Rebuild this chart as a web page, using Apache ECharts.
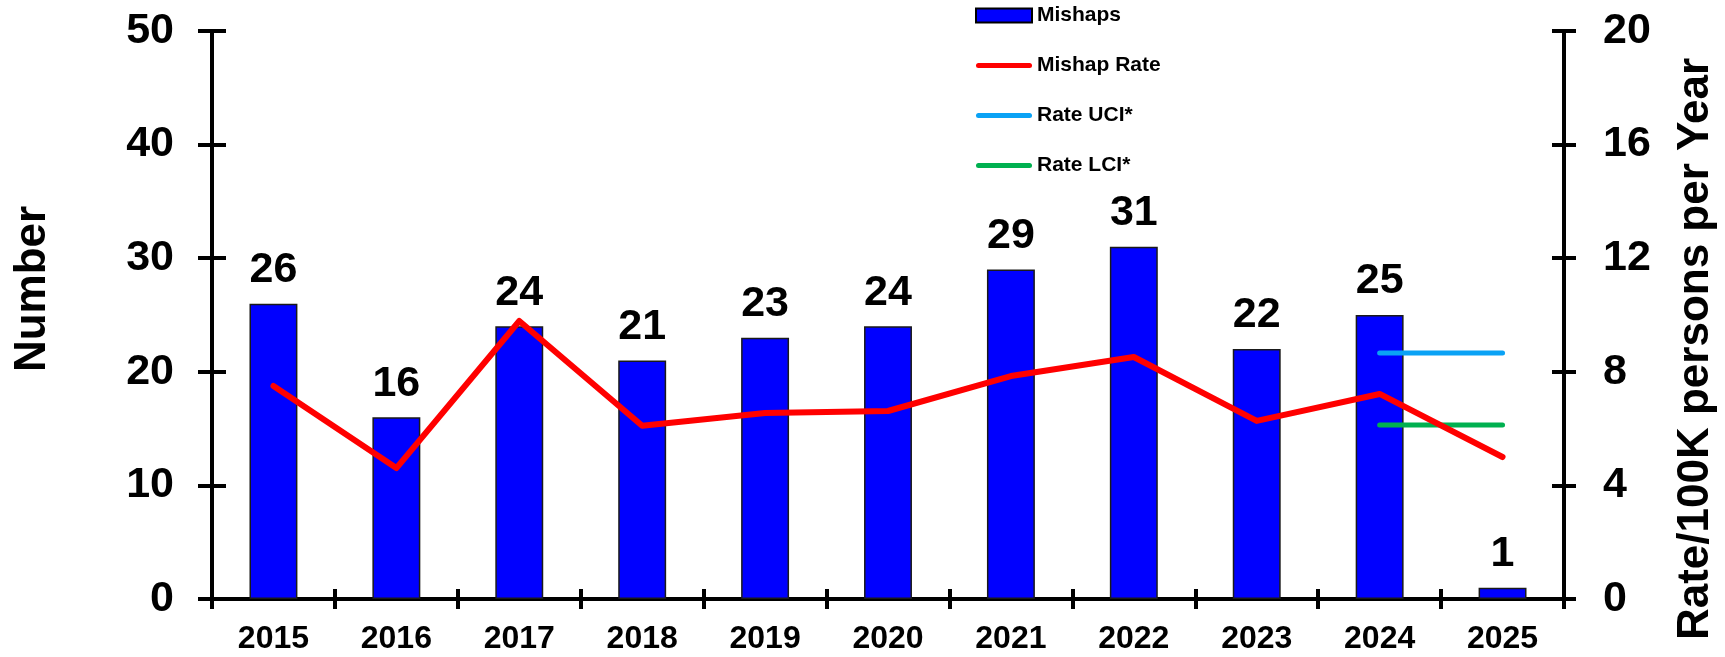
<!DOCTYPE html>
<html lang="en">

<head>
  <script src="https://cdn.jsdelivr.net/npm/echarts@6.0.0/dist/echarts.min.js"></script>
  <meta charset="UTF-8">
  <style>
    body { margin: 0; background: #fff; }
  </style>
</head>

<body>
  <div id="mishapChart" style="width: 1725px;height:657px;"></div>

  <script type="text/javascript">

    var years = ['2015', '2016', '2017', '2018', '2019', '2020', '2021', '2022', '2023', '2024', '2025'];
    var mishaps = [26, 16, 24, 21, 23, 24, 29, 31, 22, 25, 1];
    var mishapRate = [7.50, 4.61, 9.79, 6.10, 6.55, 6.62, 7.85, 8.52, 6.27, 7.22, 5.00];
    var rateUCI = [null, null, null, null, null, null, null, null, null, 8.66, 8.66];
    var rateLCI = [null, null, null, null, null, null, null, null, null, 6.13, 6.13];

    var countTicks = [0, 50, 10];   // min, max, interval
    var rateTicks = [0, 20, 4];

    const FONT = '"Liberation Sans", Arial, sans-serif';
    const AXIS_LINE = { show: true, lineStyle: { color: '#000', width: 4 } };
    // thin bar with round ends, used as the legend icon of the line series
    const LINE_ICON = 'path://M2.5,0 L53.5,0 A2.5,2.5 0 0 1 53.5,5 L2.5,5 A2.5,2.5 0 0 1 2.5,0 Z';

    function tickOnlyAxis(base, inside) {
      // a copy of an axis that draws only ticks, so ticks can cross the axis line
      return Object.assign({}, base, {
        axisLine: { show: false },
        axisLabel: { show: false },
        splitLine: { show: false },
        name: '',
        axisTick: Object.assign({}, base.axisTick, { inside: inside })
      });
    }

    function createMishapChart() {
      const chart = echarts.init(document.getElementById('mishapChart'));

      const xBase = {
        type: 'category',
        data: years,
        position: 'bottom',
        boundaryGap: true,
        axisLine: AXIS_LINE,
        axisTick: { show: true, interval: 0, length: 10, lineStyle: { color: '#000', width: 4 } },
        axisLabel: {
          interval: 0,
          margin: 24,
          color: '#000',
          fontSize: 32,
          fontWeight: 'bold',
          fontFamily: FONT
        },
        splitLine: { show: false }
      };

      const leftBase = {
        type: 'value',
        position: 'left',
        min: countTicks[0],
        max: countTicks[1],
        interval: countTicks[2],
        axisLine: AXIS_LINE,
        axisTick: { show: true, length: 14, lineStyle: { color: '#000', width: 4 } },
        axisLabel: { margin: 38, color: '#000', fontSize: 43, fontWeight: 'bold', fontFamily: FONT },
        splitLine: { show: false }
      };

      const rightBase = {
        type: 'value',
        position: 'right',
        min: rateTicks[0],
        max: rateTicks[1],
        interval: rateTicks[2],
        axisLine: AXIS_LINE,
        axisTick: { show: true, length: 12, lineStyle: { color: '#000', width: 4 } },
        axisLabel: { margin: 39, color: '#000', fontSize: 43, fontWeight: 'bold', fontFamily: FONT },
        splitLine: { show: false }
      };

      let option = {
        animation: false,
        backgroundColor: '#fff',
        grid: {
          left: 212,
          right: 161,
          top: 31,
          bottom: 58,
          containLabel: false
        },
        legend: {
          orient: 'vertical',
          left: 975,
          top: 5,
          padding: 0,
          itemWidth: 56,
          itemHeight: 14,
          itemGap: 29,
          textStyle: { color: '#000', fontSize: 21, fontWeight: 'bold', fontFamily: FONT },
          data: [
            { name: 'Mishaps', icon: 'rect', itemStyle: { borderColor: '#000', borderWidth: 2 } },
            { name: 'Mishap Rate', icon: LINE_ICON },
            { name: 'Rate UCI*', icon: LINE_ICON },
            { name: 'Rate LCI*', icon: LINE_ICON }
          ]
        },
        graphic: [
          {
            type: 'text',
            x: 33,
            y: 289,
            rotation: Math.PI / 2,
            style: {
              text: 'Number',
              fill: '#000',
              font: 'bold 44px ' + FONT,
              textAlign: 'center',
              textVerticalAlign: 'middle'
            }
          },
          {
            type: 'text',
            x: 1696,
            y: 349,
            rotation: Math.PI / 2,
            style: {
              text: 'Rate/100K persons per Year',
              fill: '#000',
              font: 'bold 44px ' + FONT,
              textAlign: 'center',
              textVerticalAlign: 'middle'
            }
          }
        ],
        xAxis: [
          xBase,
          tickOnlyAxis(xBase, true)
        ],
        yAxis: [
          leftBase,
          rightBase,
          tickOnlyAxis(leftBase, true),
          tickOnlyAxis(rightBase, true)
        ],
        series: [
          {
            name: 'Mishaps',
            type: 'bar',
            xAxisIndex: 0,
            yAxisIndex: 0,
            data: mishaps,
            barWidth: '39%',
            itemStyle: { color: '#0000FF', borderColor: '#1a1a1a', borderWidth: 1.5 },
            label: {
              show: true,
              position: 'top',
              distance: 12,
              color: '#000',
              fontSize: 43,
              fontWeight: 'bold',
              fontFamily: FONT
            },
            z: 2
          },
          {
            name: 'Mishap Rate',
            type: 'line',
            xAxisIndex: 0,
            yAxisIndex: 1,
            data: mishapRate,
            symbol: 'none',
            color: '#FF0000',
            lineStyle: { color: '#FF0000', width: 6, cap: 'round', join: 'round' },
            z: 4
          },
          {
            name: 'Rate UCI*',
            type: 'line',
            xAxisIndex: 0,
            yAxisIndex: 1,
            data: rateUCI,
            symbol: 'none',
            color: '#0AA2F5',
            lineStyle: { color: '#0AA2F5', width: 5, cap: 'round' },
            z: 3
          },
          {
            name: 'Rate LCI*',
            type: 'line',
            xAxisIndex: 0,
            yAxisIndex: 1,
            data: rateLCI,
            symbol: 'none',
            color: '#00B050',
            lineStyle: { color: '#00B050', width: 5, cap: 'round' },
            z: 3
          }
        ]
      };

      chart.setOption(option);
    }
    createMishapChart();
  </script>
</body>

</html>
